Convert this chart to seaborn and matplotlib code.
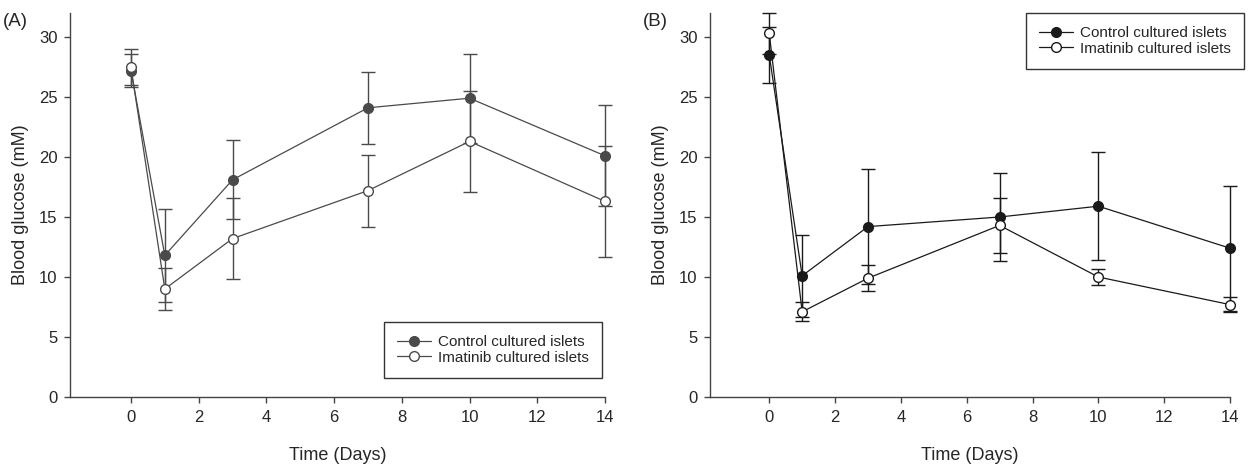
import numpy as np
import pandas as pd
import matplotlib
matplotlib.use("Agg")
import matplotlib.pyplot as plt
import seaborn as sns

DAYS = [0, 1, 3, 7, 10, 14]
GROUPS = ["Control cultured islets", "Imatinib cultured islets"]

# panel A
A_CONTROL = [27.2, 11.8, 18.1, 24.1, 24.9, 20.1]
A_CONTROL_SE = [1.4, 3.9, 3.3, 3.0, 3.7, 4.2]
A_IMATINIB = [27.5, 9.0, 13.2, 17.2, 21.3, 16.3]
A_IMATINIB_SE = [1.5, 1.75, 3.35, 3.0, 4.2, 4.6]

# panel B
B_CONTROL = [28.5, 10.1, 14.2, 15.0, 15.9, 12.4]
B_CONTROL_SE = [2.3, 3.4, 4.8, 3.7, 4.5, 5.2]
B_IMATINIB = [30.3, 7.1, 9.9, 14.3, 10.0, 7.7]
B_IMATINIB_SE = [1.7, 0.8, 1.1, 2.3, 0.7, 0.65]

sns.set_style("ticks")
plt.rcParams["font.family"] = ["Liberation Sans", "DejaVu Sans"]


def make_frame(ctrl, ctrl_se, imat, imat_se):
    rows = []
    for d, v, e in zip(DAYS, ctrl, ctrl_se):
        rows.append({"day": d, "glucose": v, "se": e, "group": GROUPS[0]})
    for d, v, e in zip(DAYS, imat, imat_se):
        rows.append({"day": d, "glucose": v, "se": e, "group": GROUPS[1]})
    return pd.DataFrame(rows)


def draw_panel(ax, df, color, legend_loc, legend_anchor):
    for grp in GROUPS:
        sub = df[df["group"] == grp]
        bars = ax.errorbar(sub["day"], sub["glucose"], yerr=sub["se"], fmt="none",
                           ecolor=color, elinewidth=1.0, capsize=5, capthick=1.0,
                           zorder=2)
        for art in bars.lines[1] + bars.lines[2]:
            art.set_clip_on(False)
    sns.lineplot(data=df, x="day", y="glucose", hue="group", style="group",
                 palette=[color, color], markers=["o", "o"], dashes=False,
                 linewidth=0.9, markersize=7, ax=ax, zorder=3, legend=False)
    for line, face in zip(ax.get_lines()[-2:], [color, "white"]):
        line.set_markerfacecolor(face)
        line.set_markeredgecolor(color)
        line.set_markeredgewidth(1.0)
        line.set_clip_on(False)

    handles = [plt.Line2D([], [], color=color, marker="o", markersize=7,
                          markerfacecolor=f, markeredgecolor=color, linewidth=0.9)
               for f in [color, "white"]]
    leg = ax.legend(handles, GROUPS, loc=legend_loc, bbox_to_anchor=legend_anchor,
                    borderaxespad=0, fancybox=False, framealpha=1, fontsize=11,
                    handlelength=2.2, labelspacing=0.1, borderpad=0.85,
                    handletextpad=0.5)
    leg.get_frame().set_edgecolor("#333333")
    leg.get_frame().set_linewidth(1.0)

    ax.set_xlim(-1.8, 14)
    ax.set_ylim(0, 32)
    ax.set_xticks(range(0, 15, 2))
    ax.set_yticks(range(0, 31, 5))
    ax.set_xlabel("Time (Days)", fontsize=13, labelpad=16)
    ax.set_ylabel("Blood glucose (mM)", fontsize=13, labelpad=7)
    ax.tick_params(axis="both", labelsize=12, length=4, width=1, color="#444444",
                   pad=5)
    for side in ["left", "bottom"]:
        ax.spines[side].set_color("#444444")
        ax.spines[side].set_linewidth(1.0)
    sns.despine(ax=ax)


fig = plt.figure(figsize=(12.59, 4.66), dpi=100)
ax_a = fig.add_axes([70 / 1259, 69 / 466, 535 / 1259, 384 / 466])
ax_b = fig.add_axes([710 / 1259, 69 / 466, 520 / 1259, 384 / 466])

df_a = make_frame(A_CONTROL, A_CONTROL_SE, A_IMATINIB, A_IMATINIB_SE)
df_b = make_frame(B_CONTROL, B_CONTROL_SE, B_IMATINIB, B_IMATINIB_SE)

draw_panel(ax_a, df_a, "#4a4a4a", "lower right", (0.995, 0.05))
draw_panel(ax_b, df_b, "#1a1a1a", "upper right", (1.027, 1.0))

fig.text(0.002, 1 - 22 / 466, "(A)", fontsize=13.5, va="center", ha="left")
fig.text(643 / 1259, 1 - 22 / 466, "(B)", fontsize=13.5, va="center", ha="left")

fig.savefig("out.png", dpi=100)
